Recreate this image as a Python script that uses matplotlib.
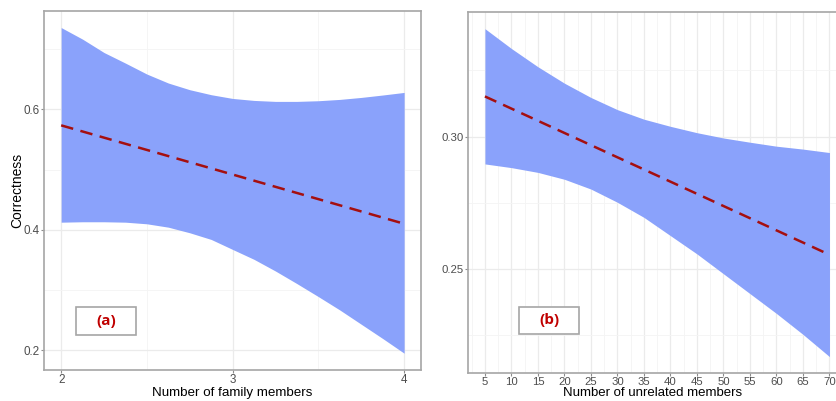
import matplotlib
matplotlib.use("Agg")
import matplotlib.pyplot as plt
from matplotlib.patches import Rectangle
from matplotlib.ticker import MultipleLocator

plt.rcParams['font.family'] = ['Liberation Sans', 'DejaVu Sans']

# ---- Panel (a) data ----
fam_x = [2.0, 2.125, 2.25, 2.375, 2.5, 2.625, 2.75, 2.875, 3.0,
         3.125, 3.25, 3.375, 3.5, 3.625, 3.75, 3.875, 4.0]
fam_upper = [0.736, 0.7167, 0.6945, 0.6769, 0.6587, 0.6438, 0.6327, 0.6244, 0.6182,
             0.6149, 0.6133, 0.6133, 0.6144, 0.6166, 0.6199, 0.6239, 0.6282]
fam_lower = [0.4126, 0.4133, 0.4133, 0.4126, 0.4099, 0.4043, 0.395, 0.3839, 0.3673,
             0.3508, 0.3314, 0.3105, 0.2889, 0.2667, 0.243, 0.2193, 0.1949]
fam_line_x = [2.0, 3.0, 4.0]
fam_line_y = [0.5735, 0.4918, 0.410]
fam_xticks = [2, 3, 4]
fam_yticks = [0.2, 0.4, 0.6]

# ---- Panel (b) data ----
unr_x = [5, 10, 15, 20, 25, 30, 35, 40, 45, 50, 55, 60, 65, 70]
unr_upper = [0.3408, 0.3333, 0.3264, 0.3202, 0.3148, 0.3102, 0.3066, 0.3039,
             0.3015, 0.2995, 0.2979, 0.2964, 0.2953, 0.2940]
unr_lower = [0.2897, 0.2883, 0.2865, 0.2839, 0.2802, 0.2752, 0.2695, 0.2626,
             0.2557, 0.2482, 0.2407, 0.2332, 0.2253, 0.2169]
unr_line_x = [5, 70]
unr_line_y = [0.3152, 0.2554]
unr_xticks = list(range(5, 75, 5))
unr_yticks = [0.25, 0.30]

ribbon_color = '#8aa2fb'
line_color = '#a50f0f'
spine_color = '#a6a6a6'
grid_major = '#ebebeb'
grid_minor = '#f4f4f4'
tick_label_color = '#4d4d4d'

fig = plt.figure(figsize=(8.37, 4.01), dpi=100)
fig.patch.set_facecolor('white')

W, H = 837, 401
def axes_rect(l, t, r, b):
    return [l / W, 1 - b / H, (r - l) / W, (b - t) / H]

ax1 = fig.add_axes(axes_rect(44, 11, 421.3, 370))
ax2 = fig.add_axes(axes_rect(467.7, 12, 837, 372.5))

def style(ax, lsize):
    ax.set_facecolor('white')
    ax.grid(True, which='major', color=grid_major, linewidth=0.9, zorder=0)
    ax.grid(True, which='minor', color=grid_minor, linewidth=0.6, zorder=0)
    ax.set_axisbelow(True)
    for s in ax.spines.values():
        s.set_color(spine_color)
        s.set_linewidth(1.2)
    ax.tick_params(which='major', direction='out', length=2.5, width=0.8,
                   color='#8c8c8c', labelcolor=tick_label_color, labelsize=lsize, pad=0.6)
    ax.tick_params(which='minor', length=0)

dash = (0, (5, 3))

# Panel (a)
ax1.fill_between(fam_x, fam_lower, fam_upper, color=ribbon_color, linewidth=0, zorder=2)
ax1.plot(fam_line_x, fam_line_y, color=line_color, linestyle=dash, linewidth=1.8, zorder=3)
ax1.set_xlim(1.9, 4.1)
ax1.set_ylim(0.167, 0.7635)
ax1.set_xticks(fam_xticks)
ax1.set_xticklabels([str(v) for v in fam_xticks])
ax1.set_yticks(fam_yticks)
ax1.set_yticklabels([f"{v:.1f}" for v in fam_yticks])
ax1.xaxis.set_minor_locator(MultipleLocator(0.5))
ax1.yaxis.set_minor_locator(MultipleLocator(0.1))
style(ax1, 8.4)
ax1.set_xlabel('Number of family members', fontsize=9.6, color='black', va='top')
ax1.set_ylabel('Correctness', fontsize=10, color='black', va='center')
ax1.yaxis.set_label_coords(-0.0716, 0.5)

# Panel (b)
ax2.fill_between(unr_x, unr_lower, unr_upper, color=ribbon_color, linewidth=0, zorder=2)
ax2.plot(unr_line_x, unr_line_y, color=line_color, linestyle=dash, linewidth=1.8, zorder=3)
ax2.set_xlim(1.75, 71.42)
ax2.set_ylim(0.2109, 0.3471)
ax2.set_xticks(unr_xticks)
ax2.set_xticklabels([str(v) for v in unr_xticks])
ax2.set_yticks(unr_yticks)
ax2.set_yticklabels([f"{v:.2f}" for v in unr_yticks])
ax2.xaxis.set_minor_locator(MultipleLocator(2.5))
ax2.yaxis.set_minor_locator(MultipleLocator(0.025))
style(ax2, 8.2)
ax2.spines['right'].set_visible(False)
ax2.set_xlabel('Number of unrelated members', fontsize=9.5, color='black', va='top')

# Panel tags
def tag(ax, x0, y0, x1, y1, text):
    ax.add_patch(Rectangle((x0, y0), x1 - x0, y1 - y0, transform=ax.transAxes,
                           facecolor='white', edgecolor='#a6a6a6', linewidth=1.2, zorder=5))
    ax.text((x0 + x1) / 2, (y0 + y1) / 2, text, transform=ax.transAxes,
            ha='center', va='center', fontsize=11, fontweight='bold',
            color='#c00000', family=['Open Sans', 'DejaVu Sans'], zorder=6)

tag(ax1, 0.0848, 0.0972, 0.2438, 0.175, '(a)')
tag(ax2, 0.139, 0.1057, 0.301, 0.183, '(b)')

# place x labels directly beneath their tick labels
fig.canvas.draw()
renderer = fig.canvas.get_renderer()
for ax in (ax1, ax2):
    ymin = min(t.get_window_extent(renderer).y0 for t in ax.get_xticklabels())
    y_ax = ax.transAxes.inverted().transform((0, ymin - 0.5))[1]
    ax.xaxis.set_label_coords(0.5, y_ax)

fig.savefig('out.png', dpi=100, facecolor='white')
